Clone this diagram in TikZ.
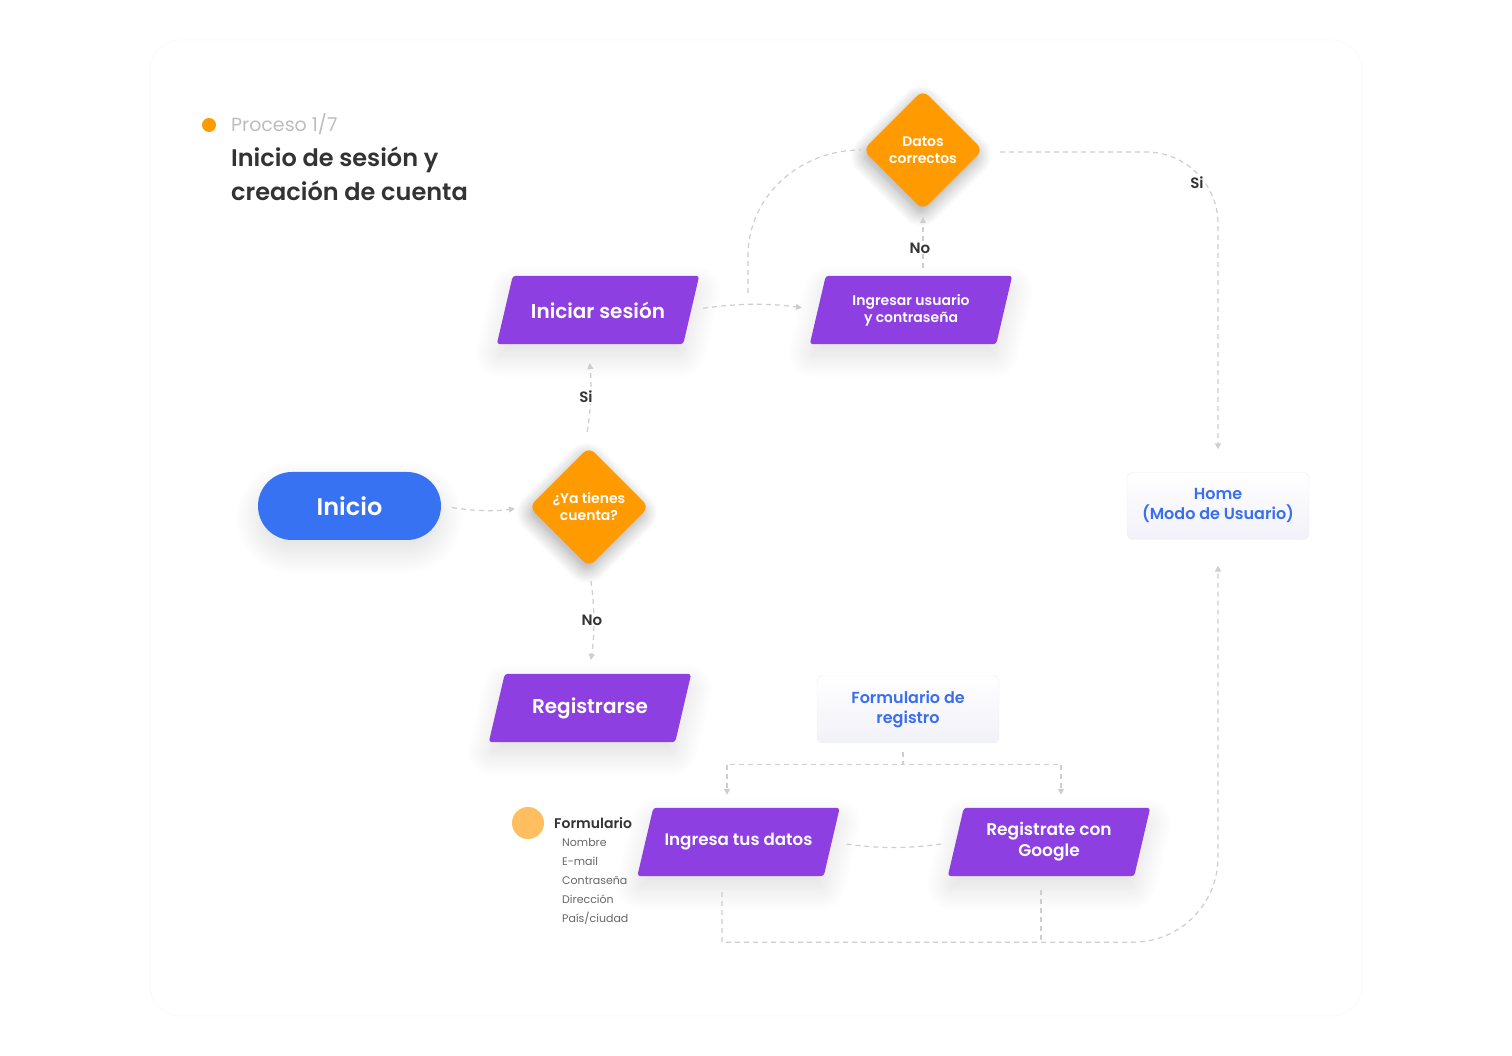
\documentclass[tikz,border=0pt]{standalone}
\usepackage{fontspec}
\setmainfont{Poppins}[BoldFont={Poppins SemiBold}]
\usetikzlibrary{arrows.meta, positioning, shapes.geometric, shadows.blur, backgrounds}

\definecolor{morado}{HTML}{8D3FE2}
\definecolor{naranja}{HTML}{FF9A00}
\definecolor{azul}{HTML}{3772F2}
\definecolor{azultexto}{HTML}{3A6EF0}
\definecolor{gristrazo}{HTML}{CDCDD3}
\definecolor{textoosc}{HTML}{333333}
\definecolor{textoclaro}{HTML}{BDBDBD}
\definecolor{textocampo}{HTML}{666666}
\definecolor{naranjaclaro}{HTML}{FFBF60}
\definecolor{fondo}{HTML}{F1F1F8}
\definecolor{borde}{HTML}{EDEDF3}

\begin{document}
\begin{tikzpicture}[x=1pt, y=1pt,
    sombra gris/.style={blur shadow={shadow xshift=0pt, shadow yshift=-12pt, shadow blur radius=22pt, shadow blur steps=16, shadow opacity=13}},
    sombra naranja/.style={blur shadow={shadow xshift=-2pt, shadow yshift=-6pt, shadow blur radius=14pt, shadow blur steps=12, shadow opacity=35, fill=naranja}},
    inicio style/.style={rectangle, rounded corners=34pt, fill=azul, text=white, minimum width=183pt, minimum height=68pt, font=\bfseries\fontsize{24}{29}\selectfont, sombra gris},
    decision style/.style={diamond, aspect=1, minimum width=120pt, minimum height=120pt, inner sep=0pt, rounded corners=8pt, fill=naranja, text=white, align=center, font=\bfseries\fontsize{14}{17}\selectfont, sombra naranja},
    proceso style/.style={rectangle, minimum width=186pt, minimum height=68pt, inner sep=0pt, text=white, align=center},
    caja style/.style={fill=morado, rounded corners=3pt, sombra gris},
    pantalla style/.style={rectangle, rounded corners=6pt, top color=white, bottom color=fondo, draw=borde, text=azultexto, minimum width=182pt, minimum height=67pt, align=center, font=\bfseries\fontsize{16}{20}\selectfont},
    flecha style/.style={draw=gristrazo, line width=1.2pt, dash pattern=on 5pt off 4pt, -{Triangle[length=6pt, width=6pt]}},
    linea style/.style={draw=gristrazo, line width=1.2pt, dash pattern=on 5pt off 4pt},
    etiqueta style/.style={fill=white, text=textoosc, inner sep=1pt, font=\bfseries\fontsize{15}{18}\selectfont},
    campo style/.style={anchor=base west, inner sep=0pt, text=textocampo, font=\fontsize{11}{14}\selectfont}
]
\useasboundingbox (0,0) rectangle (1512,1056);
\draw[black!2, line width=1pt, rounded corners=30pt] (150,40) rectangle (1362,1016);

% encabezado
\fill[naranja] (209,931) circle (7);
\node[anchor=base west, inner sep=0pt, text=textoclaro, font=\fontsize{19}{23}\selectfont] (proceso) at (231,924) {Proceso 1/7};
\node[anchor=base west, inner sep=0pt, text=textoosc, font=\bfseries\fontsize{24}{34}\selectfont] (titulo1) at (231,889) {Inicio de sesión y};
\node[anchor=base west, inner sep=0pt, text=textoosc, font=\bfseries\fontsize{24}{34}\selectfont] (titulo2) at (231,855) {creación de cuenta};

% nodos
\node[inicio style] (inicio) at (349.5,550) {Inicio};
\node[decision style] (tienes) at (589,549) {¿Ya tienes\\cuenta?};
\node[proceso style, font=\bfseries\fontsize{20}{24}\selectfont] (iniciar) at (598,746) {Iniciar sesión};
\node[proceso style, font=\bfseries\fontsize{14}{17}\selectfont] (ingresar) at (911,746) {Ingresar usuario\\y contraseña};
\node[decision style] (datos) at (923,906) {Datos\\correctos};
\node[proceso style, font=\bfseries\fontsize{20}{24}\selectfont] (registrarse) at (590,348) {Registrarse};
\node[pantalla style] (formulario) at (908,346.5) {Formulario de\\registro};
\node[pantalla style] (home) at (1218,550) {Home\\(Modo de Usuario)};
\node[proceso style, font=\bfseries\fontsize{16.7}{21}\selectfont] (ingresa) at (738.5,214) {Ingresa tus datos};
\node[proceso style, font=\bfseries\fontsize{17}{21}\selectfont] (google) at (1049,214) {Registrate con\\Google};

% cajas inclinadas
\begin{scope}[on background layer]
\foreach \n in {iniciar, ingresar, registrarse, ingresa, google}
    \fill[caja style] ([xshift=8pt]\n.north west) -- ([xshift=8pt]\n.north east) -- ([xshift=-8pt]\n.south east) -- ([xshift=-8pt]\n.south west) -- cycle;
\end{scope}

% formulario
\fill[naranjaclaro] (528,233) circle (16);
\node[anchor=base west, inner sep=0pt, text=textoosc, font=\bfseries\fontsize{14}{17}\selectfont] (leyenda) at (554,227) {Formulario};
\foreach \campo [count=\i] in {Nombre, E-mail, Contraseña, Dirección, País/ciudad}
    \node[campo style] (campo\i) at (562,228-\i*19) {\campo};

% conectores
\draw[flecha style, shorten <=11pt, shorten >=14pt] (inicio.east) to[bend right=8] (tienes.west);
\draw[flecha style, shorten <=15pt, shorten >=19pt] ([xshift=-4pt]tienes.north) to[bend right=7] ([xshift=-1pt]tienes.north |- iniciar.south);
\draw[flecha style, shorten <=14pt, shorten >=14pt] (tienes.south) to[bend left=8] (tienes.south |- registrarse.north);
\draw[flecha style, shorten <=12pt, shorten >=16pt] (iniciar.east) to[bend left=8] (ingresar.west);
\coordinate (rama) at (748,763);
\draw[linea style] (rama) -- ++(0,37) to[out=90, in=180] ([xshift=-2pt]datos.west);
\draw[flecha style, shorten <=8pt, shorten >=7pt] (datos.south |- ingresar.north) -- (datos.south);
\draw[flecha style, rounded corners=72pt, shorten <=17pt, shorten >=23pt] ([yshift=-2pt]datos.east) -| (home.north);
\draw[flecha style, shorten <=9pt, shorten >=13pt] ([xshift=-5pt]formulario.south) -- ++(0,-21) -| ([xshift=-11.5pt]ingresa.north);
\draw[flecha style, shorten <=9pt, shorten >=13pt] ([xshift=-5pt]formulario.south) -- ++(0,-21) -| ([xshift=12pt]google.north);
\draw[linea style, shorten <=15pt, shorten >=14pt] (ingresa.east) to[bend right=8] (google.west);
\draw[flecha style, shorten <=16pt, shorten >=26pt] ([xshift=-16.5pt]ingresa.south) -- ++(0,-66) [rounded corners=85pt] -| (home.south);
\draw[linea style, shorten <=14pt] ([xshift=-8pt]google.south) -- ++(0,-66);

% etiquetas
\node[etiqueta style] (si1) at (586,659) {Si};
\node[etiqueta style] (no1) at (592,436) {No};
\node[etiqueta style] (no2) at (920,808) {No};
\node[etiqueta style] (si2) at (1197,873) {Si};
\end{tikzpicture}
\end{document}
